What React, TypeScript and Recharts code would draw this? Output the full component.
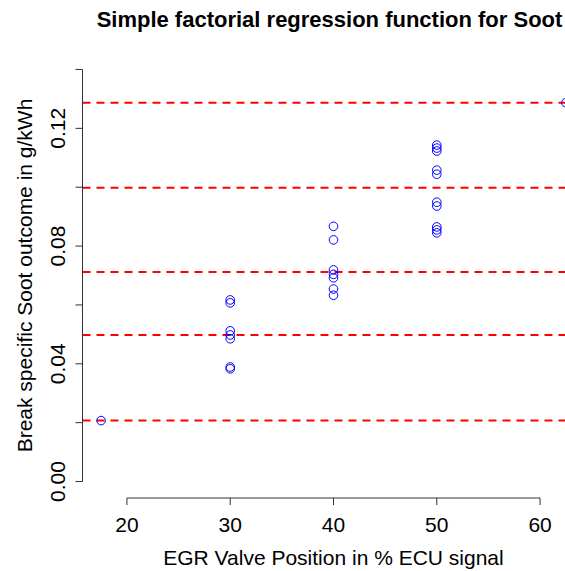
import React from "react";
import { ScatterChart, Scatter, XAxis, YAxis, ReferenceLine } from "recharts";

// EGR valve position levels (design points)
const egrLevels = [17.5, 30, 40, 50, 62.5];
// Soot outcome (g/kWh) measured at each level
const sootAt17 = [0.0207];
const sootAt30 = [0.0617, 0.0607, 0.0512, 0.0498, 0.0485, 0.0389, 0.0383];
const sootAt40 = [0.0867, 0.0821, 0.0719, 0.0704, 0.0692, 0.0654, 0.0633];
const sootAt50 = [0.1143, 0.1133, 0.1123, 0.1058, 0.1044, 0.0949, 0.0936, 0.0865, 0.0855, 0.0845];
const sootAt62 = [0.1287];
// Fitted factor-level means (red dashed lines)
const fittedLevels = [0.0207, 0.0498, 0.0712, 0.0998, 0.1287];

const xTicks = [20, 30, 40, 50, 60];
const yTicks = [0, 0.02, 0.04, 0.06, 0.08, 0.1, 0.12, 0.14];
const yLabelTicks = [0, 0.04, 0.08, 0.12];

const sootGroups = [sootAt17, sootAt30, sootAt40, sootAt50, sootAt62];
const points = sootGroups.flatMap((g, i) => g.map((v) => ({ x: egrLevels[i], y: v })));

const X_DOMAIN: [number, number] = [15.7, 64.3];
const Y_DOMAIN: [number, number] = [-0.0056, 0.1456];

const FONT = "'Liberation Sans', Arial, sans-serif";
const AXIS_COLOR = "#333";

const W = 600;
const H = 571;

const YTick = (props: any) => {
  const { y, payload } = props;
  const v = payload.value;
  if (!yLabelTicks.some((t) => Math.abs(t - v) < 1e-9)) return null;
  return (
    <text
      x={65}
      y={y}
      transform={`rotate(-90, 65, ${y})`}
      textAnchor="middle"
      fontFamily={FONT}
      fontSize={21}
      fill="#000"
    >
      {v.toFixed(2)}
    </text>
  );
};

const XTick = (props: any) => {
  const { x, payload } = props;
  return (
    <text x={x} y={532} textAnchor="middle" fontFamily={FONT} fontSize={21} fill="#000">
      {payload.value}
    </text>
  );
};

const Circle = (p: any) => (
  <circle cx={p.cx} cy={p.cy} r={4.3} fill="none" stroke="#0000ff" strokeWidth={1} />
);

export default function App() {
  return (
    <div style={{ position: "absolute", left: 0, top: 0, width: 565, height: 571, overflow: "hidden", background: "#fff" }}>
      <ScatterChart
        width={W}
        height={H}
        margin={{ top: 53, right: 15.5, bottom: 0, left: 0 }}
      >
        <XAxis
          type="number"
          dataKey="x"
          domain={X_DOMAIN}
          ticks={xTicks}
          allowDataOverflow
          axisLine={false}
          tickLine={{ stroke: AXIS_COLOR }}
          tickSize={7}
          tick={<XTick />}
          height={73}
          interval={0}
        />
        <YAxis
          type="number"
          dataKey="y"
          domain={Y_DOMAIN}
          ticks={yTicks}
          allowDataOverflow
          axisLine={false}
          tickLine={{ stroke: AXIS_COLOR }}
          tickSize={7}
          tick={<YTick />}
          width={82.5}
          interval={0}
        />
        {fittedLevels.map((v, i) => (
          <ReferenceLine
            key={i}
            y={v}
            stroke="#ff0000"
            strokeWidth={2}
            strokeDasharray="8 6"
          />
        ))}
        <ReferenceLine
          segment={[{ x: xTicks[0], y: Y_DOMAIN[0] }, { x: xTicks[xTicks.length - 1], y: Y_DOMAIN[0] }]}
          stroke={AXIS_COLOR}
          strokeWidth={1}
          ifOverflow="visible"
        />
        <ReferenceLine
          segment={[{ x: X_DOMAIN[0], y: yTicks[0] }, { x: X_DOMAIN[0], y: yTicks[yTicks.length - 1] }]}
          stroke={AXIS_COLOR}
          strokeWidth={1}
          ifOverflow="visible"
        />
        <Scatter data={points} shape={<Circle />} isAnimationActive={false} />
      </ScatterChart>
      <svg
        width={565}
        height={571}
        style={{ position: "absolute", left: 0, top: 0, pointerEvents: "none" }}
      >
        <text x={329.5} y={27} textAnchor="middle" fontFamily={FONT} fontSize={22} fontWeight="bold" fill="#000">
          Simple factorial regression function for Soot
        </text>
        <text x={333.5} y={565} textAnchor="middle" fontFamily={FONT} fontSize={21} fill="#000">
          EGR Valve Position in % ECU signal
        </text>
        <text
          x={31.5}
          y={275.5}
          transform="rotate(-90, 31.5, 275.5)"
          textAnchor="middle"
          fontFamily={FONT}
          fontSize={21}
          fill="#000"
        >
          Break specific Soot outcome in g/kWh
        </text>
      </svg>
    </div>
  );
}
